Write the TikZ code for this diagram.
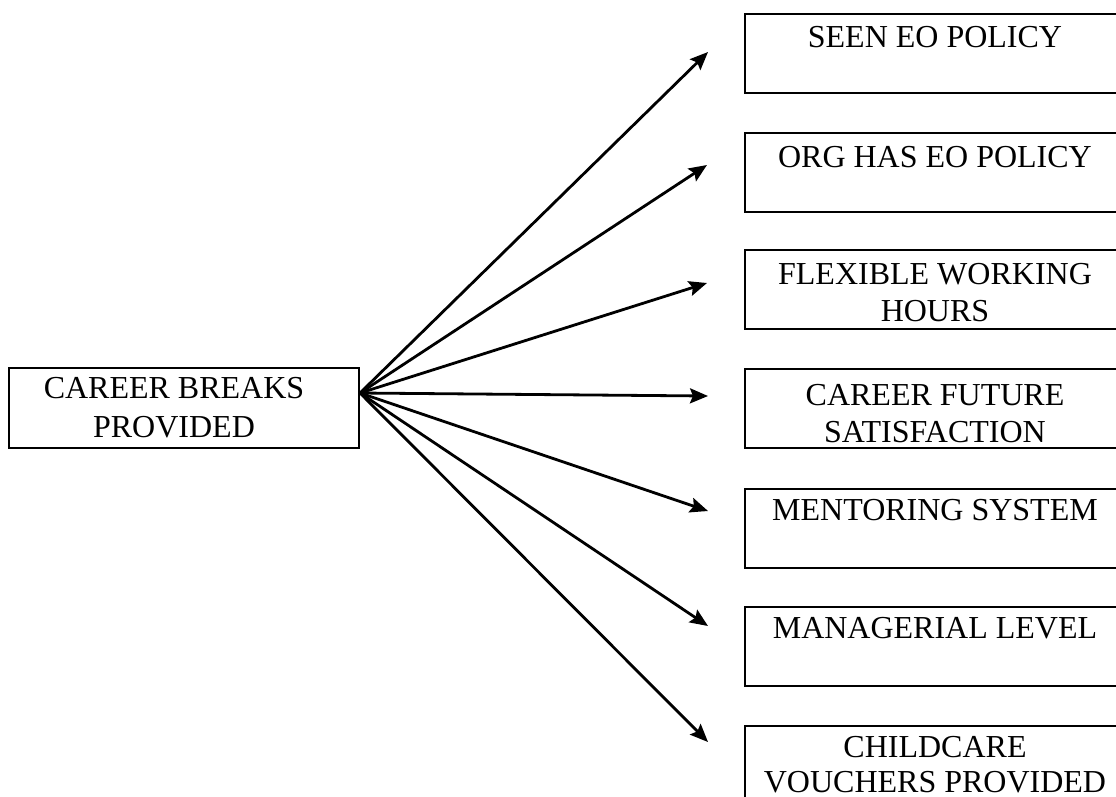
\documentclass[tikz,border=0pt]{standalone}
\usepackage{fontspec}
\setmainfont{Liberation Serif}
\usetikzlibrary{arrows.meta}
\begin{document}
\begin{tikzpicture}[x=1pt,y=-1pt,
  box/.style={draw, line width=2pt, minimum width=384pt, minimum height=79pt, inner sep=0pt, anchor=north west},
  lbl/.style={anchor=base, inner sep=0pt, font=\fontsize{32}{37}\selectfont},
  link/.style={line width=2.8pt, -{Stealth[length=18pt,width=15pt,inset=3pt]}}]
\useasboundingbox (0,0) rectangle (1116,796);

% source box
\node[box, minimum width=350pt, minimum height=80pt] (cb) at (8,367) {};
\node[lbl, font=\fontsize{32}{39}\selectfont] (cbt) at (174,398) {\parbox[t]{340pt}{\centering CAREER BREAKS\\PROVIDED}};
\coordinate (hub) at (360,393);

% target boxes
\node[box] (b1) at (744,13)  {};
\node[box] (b2) at (744,132) {};
\node[box] (b3) at (744,249) {};
\node[box] (b4) at (744,368) {};
\node[box] (b5) at (744,488) {};
\node[box] (b6) at (744,606) {};
\node[box] (b7) at (744,725) {};

\node[lbl] (l1) at (935,47)  {\parbox[t]{380pt}{\centering SEEN EO POLICY}};
\node[lbl] (l2) at (935,167) {\parbox[t]{380pt}{\centering ORG HAS EO POLICY}};
\node[lbl] (l3) at (935,284) {\parbox[t]{380pt}{\centering FLEXIBLE WORKING\\HOURS}};
\node[lbl] (l4) at (935,405) {\parbox[t]{380pt}{\centering CAREER FUTURE\\SATISFACTION}};
\node[lbl] (l5) at (935,520) {\parbox[t]{380pt}{\centering MENTORING SYSTEM}};
\node[lbl] (l6) at (935,638) {\parbox[t]{380pt}{\centering MANAGERIAL LEVEL}};
\node[lbl, font=\fontsize{32}{35}\selectfont] (l7) at (935,757) {\parbox[t]{380pt}{\centering CHILDCARE\\VOUCHERS PROVIDED}};

% arrow ends in front of the target boxes
\coordinate (t1) at (708,52);
\coordinate (t2) at (707,165);
\coordinate (t3) at (707,283);
\coordinate (t4) at (708,396);
\coordinate (t5) at (708,511);
\coordinate (t6) at (708,626);
\coordinate (t7) at (708,742);

\foreach \t in {t1,t2,t3,t4,t5,t6,t7}
  \draw[link] (hub) -- (\t);
\end{tikzpicture}
\end{document}
